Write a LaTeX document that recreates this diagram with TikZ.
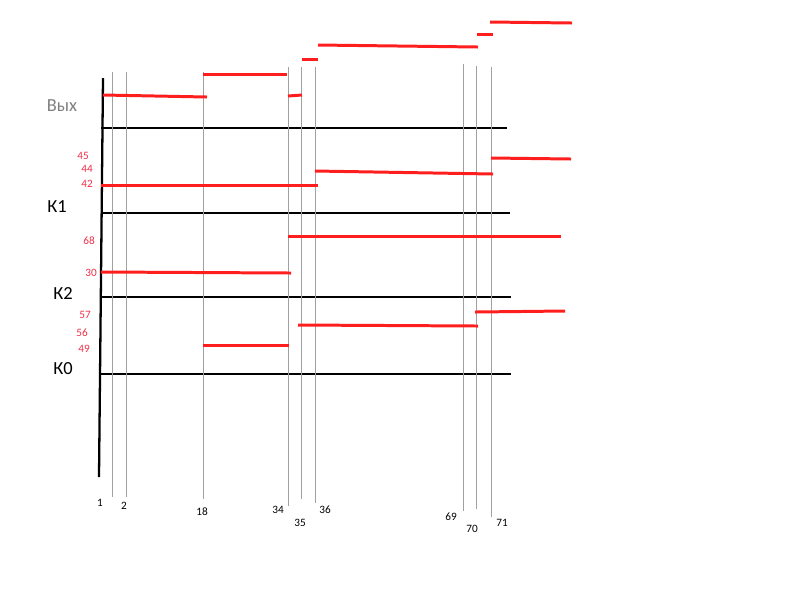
\documentclass[tikz,border=0pt]{standalone}
\usepackage{fontspec}
\setmainfont{Carlito}
\definecolor{segRed}{HTML}{FF1E1E}
\definecolor{numRed}{HTML}{EE3048}
\definecolor{tickGrey}{HTML}{A0A0A0}

\begin{document}
\begin{tikzpicture}[
    x=0.02cm, y=-0.02cm,
    axis/.style={line width=1.3pt, color=black},
    row/.style={line width=1.1pt, color=black},
    tick/.style={line width=0.5pt, color=tickGrey},
    seg/.style={line width=1.7pt, color=segRed},
    num/.style={font=\fontsize{6.4}{7}\selectfont, color=#1, inner sep=0pt},
    num/.default=black,
    reg/.style={font=\fontsize{10.5}{12}\selectfont, color=#1, inner sep=0pt},
    reg/.default=black
]
    \useasboundingbox (0,0) rectangle (800,600);

    % --- axis and rows ---
    \coordinate (axTop) at (103,78);
    \coordinate (axBot) at (99,477);
    \draw[axis] (axTop) -- (axBot);
    \foreach \y/\r/\e in {128/out/507, 213/k1/510, 297/k2/511, 374/k0/511} {
        \coordinate (\r L) at (101,\y);
        \coordinate (\r R) at (\e,\y);
        \draw[row] (\r L) -- (\r R);
    }

    % --- time ticks ---
    \foreach \x/\top/\bot/\lx/\ly/\t in {112/72/497/100/503/1, 126/72/497/124/506/2,
        203/72/499/202/512/18, 288/67/506/278/510/34, 301/67/499/300/523/35,
        315/67/503/325/510/36, 463/64/511/451/517/69, 476/66/509/472/529/70,
        491/67/517/502/523/71} {
        \coordinate (t\t a) at (\x,\top);
        \coordinate (t\t b) at (\x,\bot);
        \draw[tick] (t\t a) -- (t\t b);
        \node[num] (lbl\t) at (\lx,\ly) {\t};
    }

    % --- row labels ---
    \node[reg=gray] (out) at (62,106) {Вых};
    \node[reg] (k1) at (57,207) {К1};
    \node[reg] (k2) at (63,293) {К2};
    \node[reg] (k0) at (63,369) {К0};

    % --- levels ---
    \node[num=numRed] (v45) at (83,156) {45};
    \node[num=numRed] (v44) at (87,169) {44};
    \node[num=numRed] (v42) at (87,184) {42};
    \node[num=numRed] (v68) at (89,241) {68};
    \node[num=numRed] (v30) at (91,273) {30};
    \node[num=numRed] (v57) at (85,315) {57};
    \node[num=numRed] (v56) at (82,333) {56};
    \node[num=numRed] (v49) at (84,349) {49};

    % --- output ---
    \draw[seg] (103,95) -- (207,97);
    \draw[seg] (203,74) -- (287,74);
    \draw[seg] (288,96) -- (302,95);
    \draw[seg] (302,59) -- (318,59);
    \draw[seg] (318,45) -- (478,47);
    \draw[seg] (477,34) -- (493,34);
    \draw[seg] (490,22) -- (572,23);

    % --- K1 ---
    \draw[seg] (101,185) -- (318,185);
    \draw[seg] (315,171) -- (493,174);
    \draw[seg] (491,158) -- (571,159);

    % --- K2 ---
    \draw[seg] (288,236) -- (561,236);
    \draw[seg] (101,272) -- (291,273);

    % --- K0 ---
    \draw[seg] (298,325) -- (478,326);
    \draw[seg] (475,312) -- (565,311);
    \draw[seg] (203,345) -- (289,345);
\end{tikzpicture}
\end{document}
